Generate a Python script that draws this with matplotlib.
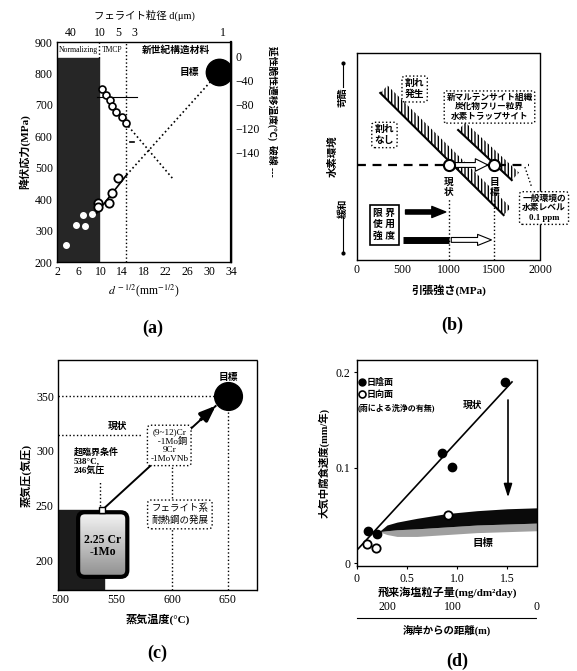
import matplotlib.pyplot as plt
import numpy as np
from matplotlib.patches import Polygon, FancyBboxPatch, FancyArrowPatch

plt.rcParams['font.family'] = ['Liberation Serif', 'Noto Sans CJK JP']
plt.rcParams['mathtext.fontset'] = 'stix'
plt.rcParams['hatch.linewidth'] = 1.0
plt.rcParams['xtick.labelsize'] = 8.5
plt.rcParams['ytick.labelsize'] = 8.5

W, H = 577, 671

# ---- (a) 降伏応力 / 遷移温度 vs d^-1/2
a_xticks = [2, 6, 10, 14, 18, 22, 26, 30, 34]
a_yticks = [200, 300, 400, 500, 600, 700, 800, 900]
grain_top_pos = [4.6, 9.8, 13.2, 16.3, 32.5]
grain_top_lbl = ['40', '10', '5', '3', '1']
dbtt_ticks = [0, -40, -80, -120, -160]
dbtt_lbls = ['0', '−40', '−80', '−120', '−140']
ys_dark_x = [3.7, 5.5, 6.7, 7.2, 8.5]
ys_dark_y = [254, 318, 350, 314, 353]
ys_open_x = [9.6, 9.6, 11.5, 12.2, 13.2]
ys_open_y = [388, 375, 388, 420, 467]
ys_fit_x = [9.3, 14.8]
ys_fit_y = [356, 477]
ys_extra_x = [14.8, 31.8]
ys_extra_y = [477, 804]
target_a = (31.8, 804)
dbtt_x = [10.2, 11.1, 11.7, 12.2, 12.9, 13.9, 14.6]
dbtt_y = [-53, -63, -72, -82, -92, -100, -110]
dbtt_extra_x = [14.6, 23.2]
dbtt_extra_y = [-110, -202]
normalizing_edge = 9.8
tmcp_edge = 14.6

# ---- (b) 引張強さ vs 水素環境
b_xticks = [0, 500, 1000, 1500, 2000]
now_ts, goal_ts = 1000, 1500
h_level = 0.459
bound1_x = [254, 1602]
bound1_y = [0.807, 0.217]
bound2_x = [1105, 1691]
bound2_y = [0.628, 0.386]

# ---- (c) 蒸気温度 vs 蒸気圧
c_xticks = [500, 550, 600, 650]
c_yticks = [200, 250, 300, 350]
sc_point = (537.5, 246)
goal_c = (650, 350)
now_pres = 314.5
box_9cr = (597.5, 305)

# ---- (d) 飛来海塩粒子量 vs 腐食速度
d_xticks = [0, 0.5, 1.0, 1.5]
d_xlbls = ['0', '0.5', '1.0', '1.5']
d_yticks = [0, 0.1, 0.2]
d_ylbls = ['0', '0.1', '0.2']
shade_x = [0.11, 0.20, 0.85, 0.95, 1.48]
shade_y = [0.034, 0.031, 0.116, 0.101, 0.19]
sun_x = [0.10, 0.19, 0.905]
sun_y = [0.020, 0.016, 0.050]
now_line_x = [0.0, 1.55]
now_line_y = [0.0137, 0.19]
band_x = [0.22, 0.30, 0.40, 0.60, 0.90, 1.20, 1.50, 1.80]
band_top = [0.033, 0.040, 0.043, 0.047, 0.052, 0.055, 0.057, 0.058]
band_mid = [0.033, 0.034, 0.035, 0.036, 0.038, 0.040, 0.041, 0.042]
band_low = [0.033, 0.030, 0.028, 0.028, 0.030, 0.032, 0.033, 0.034]
dist_pos = [0.30, 0.957, 1.80]
dist_lbl = ['200', '100', '0']


def rect(l, t, r, b):
    return [l / W, 1 - b / H, (r - l) / W, (b - t) / H]


def dotted_frame(ax):
    for s in ax.spines.values():
        s.set_linestyle((0, (1, 1)))
        s.set_linewidth(1.0)


fig = plt.figure(figsize=(W / 100, H / 100), dpi=100)

# ================= (a)
ax = fig.add_axes(rect(57, 42, 231, 262))
ax.set_xlim(2, 34)
ax.set_ylim(200, 900)
ax.set_xticks(a_xticks)
ax.set_yticks(a_yticks)
ax.tick_params(length=0, pad=3)
dotted_frame(ax)
ax.fill_between([2, normalizing_edge], 200, 849, color='#262626', zorder=1)
ax.plot([normalizing_edge, normalizing_edge], [849, 900], 'k:', lw=1)
ax.axvline(tmcp_edge, color='k', ls=':', lw=1)
ax.text(5.9, 875, 'Normalizing', fontsize=5.5, ha='center', va='center')
ax.text(12.2, 875, 'TMCP', fontsize=5.5, ha='center', va='center')
ax.text(23.8, 875, '新世紀構造材料', fontsize=7, fontweight='bold', ha='center', va='center')
ax.plot(ys_dark_x, ys_dark_y, 'o', ms=4, color='white', zorder=3)
ax.plot(ys_open_x, ys_open_y, 'o', ms=6, mfc='white', mec='k', mew=1.3, zorder=4)
ax.plot(ys_fit_x, ys_fit_y, 'k-', lw=1.2, zorder=3)
ax.plot(ys_extra_x, ys_extra_y, 'k:', lw=1.2, zorder=2)
ax.plot([9.3, 16.7], [725, 725], 'k-', lw=0.8)
ax.plot([15.5, 16.2], [582, 582], 'k-', lw=1.2)
ax.plot(*target_a, 'o', ms=19, color='k', zorder=5)
ax.text(26.3, 804, '目標', fontsize=7, fontweight='bold', ha='center', va='center')
ax.set_ylabel('降伏応力(MPa)', fontsize=8, fontweight='bold', labelpad=3)
ax.set_xlabel(r'$d^{\,-1/2}$(mm$^{-1/2}$)', fontsize=8.5, labelpad=3)

top = ax.secondary_xaxis('top')
top.set_xticks(grain_top_pos, labels=grain_top_lbl)
top.tick_params(length=0, pad=2)
top.set_xlabel('フェライト粒径 d(μm)', fontsize=7.5, labelpad=6)
top.spines['top'].set_visible(False)

axr = ax.twinx()
axr.set_ylim(-342, 25)
axr.set_yticks(dbtt_ticks, labels=dbtt_lbls)
axr.tick_params(length=0, pad=3)
for s in ['top', 'left', 'bottom']:
    axr.spines[s].set_visible(False)
axr.spines['right'].set_linestyle((0, (1, 1)))
axr.spines['right'].set_linewidth(1.6)
axr.plot(dbtt_x, dbtt_y, 'k-', lw=1.2, zorder=3)
axr.plot(dbtt_x, dbtt_y, 'o', ms=5, mfc='white', mec='k', mew=1.2, zorder=4)
axr.plot(dbtt_extra_x, dbtt_extra_y, 'k:', lw=1.2)
axr.text(1.24, 0.98, '延性脆性遷移温度(℃)  破線 ---', transform=ax.transAxes,
         rotation=-90, fontsize=7, fontweight='bold', ha='center', va='top')

fig.text(153 / W, 1 - 328 / H, '(a)', fontsize=13, fontweight='bold', ha='center', va='center')

# ================= (b)
ax = fig.add_axes(rect(357, 53, 540, 260))
ax.set_xlim(0, 2000)
ax.set_ylim(0, 1)
ax.set_xticks(b_xticks)
ax.set_yticks([])
ax.tick_params(length=0, pad=3)
dotted_frame(ax)

for bx, by in [(bound1_x, bound1_y), (bound2_x, bound2_y)]:
    off_x, off_y = 80, 0.036
    poly = Polygon([(bx[0], by[0]), (bx[1], by[1]), (bx[1] + off_x, by[1] + off_y),
                    (bx[0] + off_x, by[0] + off_y)], closed=True, fill=False,
                   hatch='|||||', edgecolor='k', lw=0)
    ax.add_patch(poly)
    ax.plot(bx, by, 'k-', lw=1.5)

ax.plot([0, 1880], [h_level, h_level], 'k', ls=(0, (4, 3)), lw=1.6)
ax.annotate('', xy=(goal_ts - 40, h_level), xytext=(now_ts + 40, h_level),
            arrowprops=dict(arrowstyle='simple,head_width=0.9,head_length=0.9,tail_width=0.35',
                            fc='white', ec='k', lw=0.8))
ax.plot([now_ts, goal_ts], [h_level, h_level], 'o', ms=8, mfc='white', mec='k', mew=1.5, zorder=5)
ax.text(now_ts, 0.35, '現\n状', fontsize=7, fontweight='bold', ha='center', va='center', linespacing=1.1)
ax.text(goal_ts, 0.35, '目\n標', fontsize=7, fontweight='bold', ha='center', va='center', linespacing=1.1)
ax.plot([now_ts, now_ts], [0, 0.30], 'k:', lw=1)
ax.plot([goal_ts, goal_ts], [0, 0.30], 'k:', lw=1)

ax.text(300, 0.17, '限 界\n使 用\n強 度', fontsize=7, fontweight='bold', ha='center', va='center',
        linespacing=1.3, bbox=dict(boxstyle='square,pad=0.4', fc='white', ec='k', lw=1.2))
ax.annotate('', xy=(now_ts, 0.232), xytext=(500, 0.232),
            arrowprops=dict(arrowstyle='simple,head_width=0.8,head_length=1.0,tail_width=0.3',
                            fc='k', ec='k'))
ax.plot([500, 1000], [0.097, 0.097], 'k-', lw=5, solid_capstyle='butt')
ax.annotate('', xy=(goal_ts, 0.097), xytext=(now_ts, 0.097),
            arrowprops=dict(arrowstyle='simple,head_width=0.8,head_length=1.0,tail_width=0.35',
                            fc='white', ec='k', lw=0.8))

ax.text(630, 0.826, '割れ\n発生', fontsize=7, fontweight='bold', ha='center', va='center',
        bbox=dict(boxstyle='round,pad=0.3', fc='white', ec='k', ls=':', lw=1))
ax.text(300, 0.604, '割れ\nなし', fontsize=7, fontweight='bold', ha='center', va='center',
        bbox=dict(boxstyle='round,pad=0.3', fc='white', ec='k', ls=':', lw=1))
ax.text(1448, 0.739, '新マルテンサイト組織\n炭化物フリー粒界\n水素トラップサイト', fontsize=6.2,
        fontweight='bold', ha='center', va='center', linespacing=1.25,
        bbox=dict(boxstyle='round,pad=0.25', fc='white', ec='k', ls=':', lw=1))
ax.plot([1835, 1912], [0.449, 0.348], 'k:', lw=1)
ax.text(2044, 0.251, '一般環境の\n水素レベル\n0.1 ppm', fontsize=6.3, fontweight='bold',
        ha='center', va='center', clip_on=False, linespacing=1.25,
        bbox=dict(boxstyle='round,pad=0.3', fc='white', ec='k', ls=':', lw=1))

ax.text(-0.131, 0.50, '水素環境', transform=ax.transAxes, rotation=90, fontsize=7.5,
        fontweight='bold', ha='center', va='center')
ax.text(-0.0765, 0.787, '苛酷', transform=ax.transAxes, rotation=90, fontsize=7,
        fontweight='bold', ha='center', va='center')
ax.plot([-0.0765, -0.0765], [0.836, 0.952], 'k-', lw=0.8, transform=ax.transAxes, clip_on=False)
ax.plot([-0.0765], [0.952], 'ko', ms=2, transform=ax.transAxes, clip_on=False)
ax.text(-0.0765, 0.25, '緩和', transform=ax.transAxes, rotation=90, fontsize=7,
        fontweight='bold', ha='center', va='center')
ax.plot([-0.0765, -0.0765], [0.034, 0.208], 'k-', lw=0.8, transform=ax.transAxes, clip_on=False)
ax.plot([-0.0765], [0.034], 'ko', ms=2, transform=ax.transAxes, clip_on=False)
ax.set_xlabel('引張強さ(MPa)', fontsize=8, fontweight='bold', labelpad=6)

fig.text(452 / W, 1 - 325 / H, '(b)', fontsize=13, fontweight='bold', ha='center', va='center')

# ================= (c)
ax = fig.add_axes(rect(58, 360, 257, 590))
ax.set_xticks(c_xticks)
ax.set_yticks(c_yticks)
ax.tick_params(length=0, pad=3)
dotted_frame(ax)

ax.fill_between([498, 539], 173, 246, color='#1c1c1c', zorder=1)
box = FancyBboxPatch((516, 185), 44, 59, boxstyle='round,pad=0,rounding_size=6',
                     fc='none', ec='k', lw=3, zorder=3)
ax.add_patch(box)
grad = ax.imshow(np.linspace(0.97, 0.55, 60).reshape(-1, 1), extent=[515, 561, 183, 246],
                 cmap='gray', vmin=0, vmax=1, aspect='auto', zorder=2)
grad.set_clip_path(box)
ax.text(538, 213, '2.25 Cr\n-1Mo', fontsize=8.5, fontweight='bold', ha='center', va='center',
        linespacing=1.0, zorder=4)

ax.plot([498, goal_c[0]], [goal_c[1], goal_c[1]], 'k:', lw=1)
ax.plot([goal_c[0], goal_c[0]], [173, goal_c[1]], 'k:', lw=1)
ax.plot([498, 573], [now_pres, now_pres], 'k:', lw=1)
ax.plot([600, 600], [173, 285], 'k:', lw=1)
ax.text(551, 322, '現状', fontsize=7, fontweight='bold', ha='center', va='center')
ax.text(512, 303.5, '超臨界条件\n538°C,\n246気圧', fontsize=6.5, fontweight='bold',
        ha='left', va='top', linespacing=1.15)
ax.plot([536, 536], [250, 272], 'k:', lw=1)
ax.plot([sc_point[0], 639], [sc_point[1], 341], 'k-', lw=1.4, zorder=2)
ax.add_patch(FancyArrowPatch((624, 327), (641, 343), arrowstyle='-|>,head_width=0.35,head_length=0.9',
                             mutation_scale=10, color='k', lw=2.5, zorder=3))
ax.plot(*sc_point, 's', ms=4, mfc='white', mec='k', mew=1, zorder=5)
ax.text(*box_9cr, '(9~12)Cr\n   -1Mo鋼\n9Cr\n-1MoVNb', fontsize=6.6, ha='center', va='center',
        linespacing=1.1, zorder=4,
        bbox=dict(boxstyle='round,pad=0.3', fc='white', ec='k', ls=':', lw=1))
ax.text(607, 242, 'フェライト系\n耐熱鋼の発展', fontsize=6.8, ha='center', va='center',
        linespacing=1.3, zorder=4,
        bbox=dict(boxstyle='round,pad=0.4', fc='white', ec='k', ls=':', lw=1))
ax.plot(*goal_c, 'o', ms=20, color='k', zorder=5)
ax.text(goal_c[0], 366.6, '目標', fontsize=7, fontweight='bold', ha='center', va='center')
ax.set_xlim(498, 676)
ax.set_ylim(173, 383)
ax.set_ylabel('蒸気圧(気圧)', fontsize=8, fontweight='bold', labelpad=3)
ax.set_xlabel('蒸気温度(°C)', fontsize=8, fontweight='bold', labelpad=5)

fig.text(157 / W, 1 - 653 / H, '(c)', fontsize=13, fontweight='bold', ha='center', va='center')

# ================= (d)
ax = fig.add_axes(rect(357, 360, 537, 566))
ax.set_xlim(0, 1.8)
ax.set_ylim(-0.003, 0.213)
ax.set_xticks(d_xticks, labels=d_xlbls)
ax.set_yticks(d_yticks, labels=d_ylbls)
ax.tick_params(length=2, pad=3)
dotted_frame(ax)

ax.fill_between(band_x, band_low, band_mid, color='#a0a0a0', lw=0)
ax.fill_between(band_x, band_mid, band_top, color='#0a0a0a', lw=0)
ax.plot(now_line_x, now_line_y, 'k-', lw=1.2)
ax.plot(shade_x, shade_y, 'o', ms=6, color='k', zorder=4)
ax.plot(sun_x, sun_y, 'o', ms=6, mfc='white', mec='k', mew=1.3, zorder=4)
ax.annotate('', xy=(1.51, 0.066), xytext=(1.51, 0.174),
            arrowprops=dict(arrowstyle='-|>,head_width=0.25,head_length=0.8', color='k', lw=1.2))
ax.text(1.16, 0.166, '現状', fontsize=7, fontweight='bold', ha='center', va='center')
ax.text(1.26, 0.021, '目標', fontsize=7.5, fontweight='bold', ha='center', va='center')

ax.plot([0.045], [0.19], 'ko', ms=5)
ax.text(0.10, 0.19, '日陰面', fontsize=6.5, fontweight='bold', va='center')
ax.plot([0.045], [0.177], 'o', ms=5, mfc='white', mec='k', mew=1.2)
ax.text(0.10, 0.177, '日向面', fontsize=6.5, fontweight='bold', va='center')
ax.text(0.01, 0.163, '(雨による洗浄の有無)', fontsize=5.8, fontweight='bold', va='center')

ax.set_ylabel('大気中腐食速度(mm/年)', fontsize=7.5, fontweight='bold', labelpad=4)
ax.set_xlabel('飛来海塩粒子量(mg/dm²day)', fontsize=8, fontweight='bold', labelpad=1)

axd = fig.add_axes(rect(357, 617, 537, 617.5))
axd.set_xlim(0, 1.8)
axd.set_yticks([])
axd.xaxis.tick_top()
axd.set_xticks(dist_pos, labels=dist_lbl)
axd.tick_params(length=0, pad=3)
for s in ['top', 'left', 'right']:
    axd.spines[s].set_visible(False)
axd.spines['bottom'].set_linestyle((0, (1, 1)))
axd.patch.set_visible(False)
fig.text(447 / W, 1 - 630 / H, '海岸からの距離(m)', fontsize=7.5, fontweight='bold',
         ha='center', va='center')

fig.text(457 / W, 1 - 661 / H, '(d)', fontsize=13, fontweight='bold', ha='center', va='center')

fig.savefig('out.png', dpi=100)
